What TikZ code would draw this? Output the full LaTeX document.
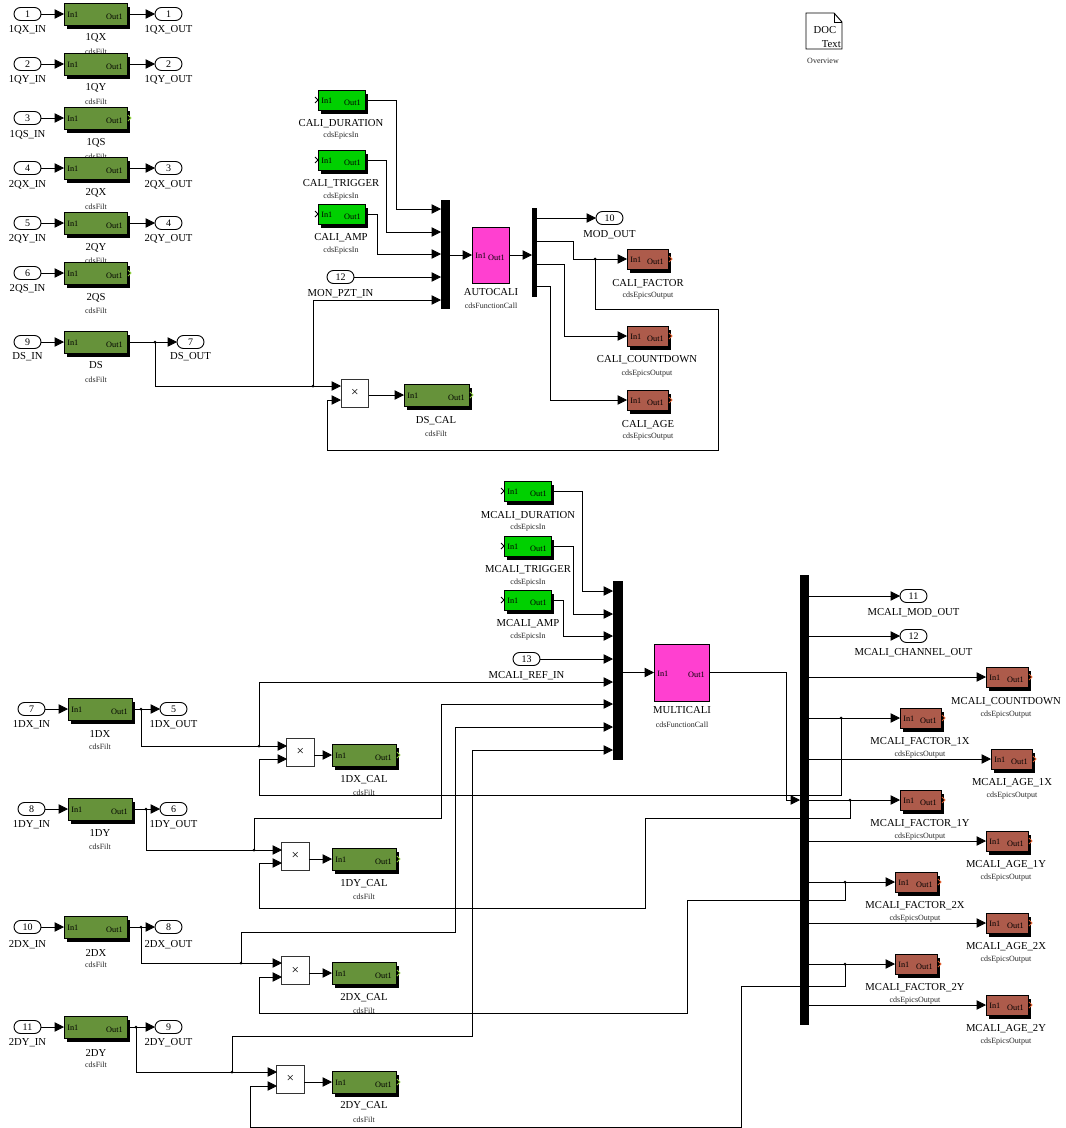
\documentclass[tikz,border=0pt]{standalone}
\usepackage{fontspec}
\setmainfont{Liberation Serif}
\usetikzlibrary{arrows.meta,shapes.misc,calc}
\definecolor{filtgreen}{HTML}{66923A}
\definecolor{epicsgreen}{HTML}{00D000}
\definecolor{epicsbrown}{HTML}{AD5B4B}
\definecolor{funcpink}{HTML}{FF40D0}
\definecolor{chevgreen}{HTML}{90D040}
\definecolor{chevbrown}{HTML}{E06030}
\tikzset{
 blockbox/.style={draw=black,line width=0.7pt,inner sep=0pt,outer sep=0pt},
 filtb/.style={fill=filtgreen},
 inb/.style={fill=epicsgreen},
 outb/.style={fill=epicsbrown},
 funcb/.style={fill=funcpink},
 portlbl/.style={inner sep=0pt,font=\fontsize{6.2}{7}\selectfont},
 namelbl/.style={inner sep=0pt,yshift=-1.1pt,font=\fontsize{8}{9}\selectfont},
 sublbl/.style={inner sep=0pt,yshift=-1.1pt,font=\fontsize{6}{7}\selectfont,text=black!85},
 oval/.style={draw=black,line width=0.7pt,rounded rectangle,fill=white,inner sep=0pt,outer sep=0pt,
   minimum width=20.25pt,minimum height=9.75pt,font=\fontsize{7.5}{8}\selectfont},
 busbar/.style={fill=black,draw=none,inner sep=0pt,outer sep=0pt},
 prodb/.style={draw=black!80,line width=0.7pt,fill=white,inner sep=0pt,outer sep=0pt,
   minimum width=20.5pt,minimum height=21pt,font=\fontsize{10}{11}\selectfont},
 wire/.style={draw=black,line width=0.6pt,-{Triangle[length=7pt,width=7pt]}},
 dotw/.style={fill=black},
}
\newcommand{\blkbase}[6]{%
 \pgfmathsetmacro\bw{(#5-#3)*0.75}\pgfmathsetmacro\bh{(#6-#4)*0.75}%
 \node[blockbox,#1,minimum width=\bw pt,minimum height=\bh pt] (#2) at ({(#3+#5)/2},{(#4+#6)/2}) {};
 \node[portlbl,anchor=west] (#2-i) at ($(#2.west)+(3,1)$) {In1};
 \node[portlbl,anchor=east] (#2-o) at ($(#2.east)+(-4,2.5)$) {Out1};
}
\newcommand{\blk}[6]{%
 \fill[black] (#3+3,#4+4) rectangle (#5+3,#6+4);
 \blkbase{#1}{#2}{#3}{#4}{#5}{#6}%
}
% name, centre x, label y, label, sub y, sub
\newcommand{\lbl}[6]{%
 \node[namelbl] (#1-l) at (#2,#3) {#4};
 \node[sublbl] (#1-s) at (#2,#5) {#6};
}
% name, left x, y, number, label, label y
\newcommand{\prt}[6]{%
 \node[oval] (#1) at (#2+13.5,#3) {#4};
 \node[namelbl] (#1-l) at (#2+13.5,#6) {#5};
}
\newcommand{\inch}[1]{\draw[black,line width=0.6pt] (#1.west) ++(-3,-3) -- ++(3,3) -- ++(-3,3);}
\newcommand{\outch}[2]{\draw[#2,line width=0.6pt] (#1.east) ++(1,-3) -- ++(3,3) -- ++(-3,3);}
\newcommand{\jn}[1]{\fill[dotw] (#1) circle (1.5);}
\begin{document}
\begin{tikzpicture}[x=0.75pt,y=-0.75pt]
\useasboundingbox (0,0) rectangle (1065,1128);
% ---- top-left filters
\prt{pa}{14}{14}{1}{1QX\_IN}{28}
\blk{filtb}{fa}{64}{3}{127}{25}\lbl{fa}{96}{36}{1QX}{50}{cdsFilt}
\prt{oa}{155}{14}{1}{1QX\_OUT}{28}
\prt{pb}{14}{64}{2}{1QY\_IN}{78}
\blk{filtb}{fb}{64}{53}{127}{75}\lbl{fb}{96}{86}{1QY}{100}{cdsFilt}
\prt{ob}{155}{64}{2}{1QY\_OUT}{78}
\prt{pc}{14}{118}{3}{1QS\_IN}{133}
\blk{filtb}{fc}{64}{107}{127}{129}\lbl{fc}{96}{141}{1QS}{155}{cdsFilt}\outch{fc}{chevgreen}
\prt{pd}{14}{168}{4}{2QX\_IN}{183}
\blk{filtb}{fd}{64}{157}{127}{179}\lbl{fd}{96}{191}{2QX}{205}{cdsFilt}
\prt{od}{155}{168}{3}{2QX\_OUT}{183}
\prt{pe}{14}{223}{5}{2QY\_IN}{237}
\blk{filtb}{fe}{64}{212}{127}{234}\lbl{fe}{96}{246}{2QY}{259}{cdsFilt}
\prt{oe}{155}{223}{4}{2QY\_OUT}{237}
\prt{pf}{14}{273}{6}{2QS\_IN}{287}
\blk{filtb}{ff}{64}{262}{127}{284}\lbl{ff}{96}{296}{2QS}{309}{cdsFilt}\outch{ff}{chevgreen}
\prt{pg}{14}{342}{9}{DS\_IN}{355}
\blk{filtb}{fg}{64}{331}{127}{353}\lbl{fg}{96}{364}{DS}{378}{cdsFilt}
\prt{og}{177}{342}{7}{DS\_OUT}{355}
\foreach \a/\b in {pa/fa,fa/oa,pb/fb,fb/ob,pc/fc,pd/fd,fd/od,pe/fe,fe/oe,pf/ff,pg/fg,fg/og}
  \draw[wire] (\a.east) -- (\b.west);
% ---- DOC block
\draw[black,line width=0.7pt,fill=white] (806,13) -- (834,13) -- (842,22) -- (842,49) -- (806,49) -- cycle;
\draw[black,line width=0.6pt] (834,13) -- (834,22) -- (842,22);
\node[namelbl] (docd) at (825,29) {DOC};
\node[namelbl,anchor=east] (doct) at (841,43) {Text};
\node[sublbl] (doco) at (823,59) {Overview};
% ---- AUTOCALI group
\blk{inb}{ca}{318}{90}{365}{110}\lbl{ca}{341}{122}{CALI\_DURATION}{134}{cdsEpicsIn}\inch{ca}
\blk{inb}{cb}{318}{150}{365}{170}\lbl{cb}{341}{182}{CALI\_TRIGGER}{195}{cdsEpicsIn}\inch{cb}
\blk{inb}{cc}{318}{204}{365}{224}\lbl{cc}{341}{236}{CALI\_AMP}{249}{cdsEpicsIn}\inch{cc}
\prt{pm}{327}{277}{12}{MON\_PZT\_IN}{292}
\node[busbar,minimum width=6.75pt,minimum height=81.75pt] (mxa) at (445.5,254.5) {};
\foreach \n/\y in {1/209,2/232,3/254,4/277,5/300} \coordinate (mxa\n) at (441,\y);
\blkbase{funcb}{auto}{472}{227}{509}{283}\lbl{auto}{491}{291}{AUTOCALI}{304}{cdsFunctionCall}
\node[busbar,minimum width=4pt,minimum height=66.75pt] (dma) at (534.5,252.5) {};
\coordinate (dmain) at (532,255);
\foreach \n/\y in {1/218,2/241,3/264,4/286} \coordinate (dma\n) at (537,\y);
\prt{om}{596}{218}{10}{MOD\_OUT}{233}
\blk{outb}{cf}{627}{249}{668}{269}\lbl{cf}{648}{282}{CALI\_FACTOR}{294}{cdsEpicsOutput}\outch{cf}{chevbrown}
\blk{outb}{cd}{627}{326}{668}{346}\lbl{cd}{647}{358}{CALI\_COUNTDOWN}{372}{cdsEpicsOutput}\outch{cd}{chevbrown}
\blk{outb}{cg}{627}{390}{668}{410}\lbl{cg}{648}{423}{CALI\_AGE}{435}{cdsEpicsOutput}\outch{cg}{chevbrown}
\node[prodb] (xds) at (355,393) {×};
\coordinate (xds1) at (341,386); \coordinate (xds2) at (341,400);
\blk{filtb}{fcal}{404}{384}{469}{406}\lbl{fcal}{436}{419}{DS\_CAL}{432}{cdsFilt}\outch{fcal}{chevgreen}
\coordinate (jd1) at (155,342); \coordinate (jd2) at (313,386); \coordinate (jd3) at (595,259);
\draw[wire] (ca.east) -| (396,209) -- (mxa1);
\draw[wire] (cb.east) -| (386,232) -- (mxa2);
\draw[wire] (cc.east) -| (377,254) -- (mxa3);
\draw[wire] (pm.east) -- (mxa4);
\draw[wire] (jd2) |- (mxa5);
\draw[wire] (mxa.east |- auto.west) -- (auto.west);
\draw[wire] (auto.east) -- (dmain);
\draw[wire] (dma1) -- (om.west);
\draw[wire] (dma2) -| (573,259) -- (cf.west);
\draw[wire] (dma3) -| (564,336) -- (cd.west);
\draw[wire] (dma4) -| (550,400) -- (cg.west);
\draw[wire] (jd1) |- (xds1);
\draw[wire] (jd3) |- (718,309) |- (327,450) |- (xds2);
\draw[wire] (xds.east |- fcal.west) -- (fcal.west);
\jn{jd1}\jn{jd2}\jn{jd3}
% ---- MULTICALI group
\blk{inb}{ma}{504}{481}{551}{501}\lbl{ma}{528}{514}{MCALI\_DURATION}{526}{cdsEpicsIn}\inch{ma}
\blk{inb}{mb}{504}{536}{551}{556}\lbl{mb}{528}{568}{MCALI\_TRIGGER}{581}{cdsEpicsIn}\inch{mb}
\blk{inb}{mc}{504}{590}{551}{610}\lbl{mc}{528}{622}{MCALI\_AMP}{635}{cdsEpicsIn}\inch{mc}
\prt{pr}{513}{659}{13}{MCALI\_REF\_IN}{674}
\node[busbar,minimum width=7.5pt,minimum height=134.25pt] (mxb) at (618,670.5) {};
\foreach \n/\y in {1/591,2/614,3/636,4/659,5/682,6/704,7/727,8/750} \coordinate (mxb\n) at (613,\y);
\blkbase{funcb}{multi}{654}{644}{709}{701}\lbl{multi}{682}{709}{MULTICALI}{723}{cdsFunctionCall}
\node[busbar,minimum width=7pt,minimum height=337.5pt] (bbar) at (804.5,800) {};
\coordinate (bin) at (800,800);
\foreach \n/\y in {1/596,2/636,3/677,4/718,5/759,6/800,7/841,8/882,9/923,10/964,11/1005} \coordinate (bo\n) at (809,\y);
\prt{o11}{900}{596}{11}{MCALI\_MOD\_OUT}{611}
\prt{o12}{900}{636}{12}{MCALI\_CHANNEL\_OUT}{651}
\blk{outb}{ea}{986}{667}{1028}{687}\lbl{ea}{1006}{700}{MCALI\_COUNTDOWN}{713}{cdsEpicsOutput}\outch{ea}{chevbrown}
\blk{outb}{eb}{900}{708}{941}{728}\lbl{eb}{920}{740}{MCALI\_FACTOR\_1X}{753}{cdsEpicsOutput}\outch{eb}{chevbrown}
\blk{outb}{ec}{991}{749}{1032}{769}\lbl{ec}{1012}{781}{MCALI\_AGE\_1X}{794}{cdsEpicsOutput}\outch{ec}{chevbrown}
\blk{outb}{ed}{900}{790}{941}{810}\lbl{ed}{920}{822}{MCALI\_FACTOR\_1Y}{835}{cdsEpicsOutput}\outch{ed}{chevbrown}
\blk{outb}{ee}{986}{831}{1028}{851}\lbl{ee}{1006}{863}{MCALI\_AGE\_1Y}{876}{cdsEpicsOutput}\outch{ee}{chevbrown}
\blk{outb}{ef}{895}{872}{937}{892}\lbl{ef}{915}{904}{MCALI\_FACTOR\_2X}{917}{cdsEpicsOutput}\outch{ef}{chevbrown}
\blk{outb}{eg}{986}{913}{1028}{933}\lbl{eg}{1006}{945}{MCALI\_AGE\_2X}{958}{cdsEpicsOutput}\outch{eg}{chevbrown}
\blk{outb}{eh}{895}{954}{937}{974}\lbl{eh}{915}{986}{MCALI\_FACTOR\_2Y}{999}{cdsEpicsOutput}\outch{eh}{chevbrown}
\blk{outb}{ei}{986}{995}{1028}{1015}\lbl{ei}{1006}{1027}{MCALI\_AGE\_2Y}{1040}{cdsEpicsOutput}\outch{ei}{chevbrown}
% 1DX
\prt{p7}{18}{709}{7}{1DX\_IN}{723}
\blk{filtb}{gx1}{68}{698}{132}{720}\lbl{gx1}{100}{733}{1DX}{745}{cdsFilt}
\prt{o5}{160}{709}{5}{1DX\_OUT}{723}
\node[prodb] (x1) at (300.5,752) {×};
\coordinate (x1a) at (287,746); \coordinate (x1b) at (287,759);
\blk{filtb}{c1}{332}{744}{396}{766}\lbl{c1}{364}{778}{1DX\_CAL}{791}{cdsFilt}\outch{c1}{chevgreen}
% 1DY
\prt{p8}{18}{809}{8}{1DY\_IN}{823}
\blk{filtb}{gy1}{68}{798}{132}{820}\lbl{gy1}{100}{832}{1DY}{845}{cdsFilt}
\prt{o6}{160}{809}{6}{1DY\_OUT}{823}
\node[prodb] (x2) at (295.5,856) {×};
\coordinate (x2a) at (282,850); \coordinate (x2b) at (282,863);
\blk{filtb}{c2}{332}{848}{396}{870}\lbl{c2}{364}{882}{1DY\_CAL}{895}{cdsFilt}\outch{c2}{chevgreen}
% 2DX
\prt{p10}{14}{927}{10}{2DX\_IN}{943}
\blk{filtb}{gx2}{64}{916}{127}{938}\lbl{gx2}{96}{951}{2DX}{963}{cdsFilt}
\prt{o8}{155}{927}{8}{2DX\_OUT}{943}
\node[prodb] (x3) at (295.5,970.5) {×};
\coordinate (x3a) at (282,963); \coordinate (x3b) at (282,977);
\blk{filtb}{c3}{332}{962}{396}{984}\lbl{c3}{364}{996}{2DX\_CAL}{1009}{cdsFilt}\outch{c3}{chevgreen}
% 2DY
\prt{p11}{14}{1027}{11}{2DY\_IN}{1041}
\blk{filtb}{gy2}{64}{1016}{127}{1038}\lbl{gy2}{96}{1051}{2DY}{1063}{cdsFilt}
\prt{o9}{155}{1027}{9}{2DY\_OUT}{1041}
\node[prodb] (x4) at (290.5,1079) {×};
\coordinate (x4a) at (277,1072); \coordinate (x4b) at (277,1086);
\blk{filtb}{c4}{332}{1071}{396}{1093}\lbl{c4}{364}{1104}{2DY\_CAL}{1118}{cdsFilt}\outch{c4}{chevgreen}
% junction points
\coordinate (j1a) at (141,709); \coordinate (j1b) at (259,746); \coordinate (j1c) at (841,718);
\coordinate (j2a) at (146,809); \coordinate (j2b) at (254,850); \coordinate (j2c) at (850,800);
\coordinate (j3a) at (141,927); \coordinate (j3b) at (241,963); \coordinate (j3c) at (845,882);
\coordinate (j4a) at (136,1027); \coordinate (j4b) at (232,1072); \coordinate (j4c) at (845,964);
% wires lower
\draw[wire] (ma.east) -| (582,591) -- (mxb1);
\draw[wire] (mb.east) -| (573,614) -- (mxb2);
\draw[wire] (mc.east) -| (563,636) -- (mxb3);
\draw[wire] (pr.east) -- (mxb4);
\draw[wire] (mxb.east |- multi.west) -- (multi.west);
\draw[wire] (multi.east) -| (786,800) -- (bin);
\draw[wire] (bo1) -- (o11.west);
\draw[wire] (bo2) -- (o12.west);
\draw[wire] (bo3) -- (ea.west);
\draw[wire] (bo4) -- (eb.west);
\draw[wire] (bo5) -- (ec.west);
\draw[wire] (bo6) -- (ed.west);
\draw[wire] (bo7) -- (ee.west);
\draw[wire] (bo8) -- (ef.west);
\draw[wire] (bo9) -- (eg.west);
\draw[wire] (bo10) -- (eh.west);
\draw[wire] (bo11) -- (ei.west);
\foreach \a/\b in {p7/gx1,gx1/o5,p8/gy1,gy1/o6,p10/gx2,gx2/o8,p11/gy2,gy2/o9}
  \draw[wire] (\a.east) -- (\b.west);
\foreach \a/\b in {x1/c1,x2/c2,x3/c3,x4/c4}
  \draw[wire] (\a.east |- \b.west) -- (\b.west);
\draw[wire] (j1a) |- (x1a);
\draw[wire] (j2a) |- (x2a);
\draw[wire] (j3a) |- (x3a);
\draw[wire] (j4a) |- (x4a);
\draw[wire] (j1b) |- (mxb5);
\draw[wire] (j2b) |- (441,818) |- (mxb6);
\draw[wire] (j3b) |- (455,932) |- (mxb7);
\draw[wire] (j4b) |- (472,1036) |- (mxb8);
\draw[wire] (j1c) |- (259,795) |- (x1b);
\draw[wire] (j2c) |- (645,818) |- (259,908) |- (x2b);
\draw[wire] (j3c) |- (687,900) |- (259,1013) |- (x3b);
\draw[wire] (j4c) |- (741,986) |- (250,1127) |- (x4b);
\foreach \j in {j1a,j1b,j1c,j2a,j2b,j2c,j3a,j3b,j3c,j4a,j4b,j4c} {\jn{\j}}
\end{tikzpicture}
\end{document}
